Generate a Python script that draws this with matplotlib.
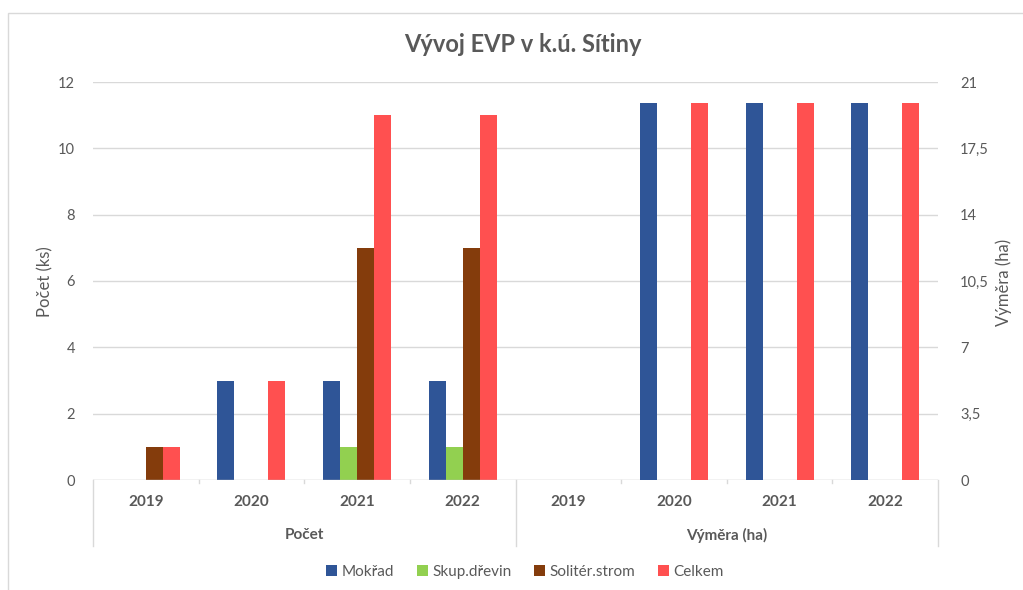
import matplotlib
matplotlib.use("Agg")
import matplotlib.pyplot as plt
import numpy as np
from matplotlib.patches import Rectangle

plt.rcParams['font.family'] = ['Lato', 'DejaVu Sans']

# ---- data ----
years = ['2019', '2020', '2021', '2022']
groups = ['Počet', 'Výměra (ha)']
series = ['Mokřad', 'Skup.dřevin', 'Solitér.strom', 'Celkem']
colors = ['#2F5597', '#92D050', '#843C0C', '#FF5050']

pocet_mokrad = [0, 3, 3, 3]
pocet_skup = [0, 0, 1, 1]
pocet_solit = [1, 0, 7, 7]
pocet_celkem = [1, 3, 11, 11]

vymera_mokrad = [0, 19.9, 19.9, 19.9]
vymera_skup = [0, 0, 0, 0]
vymera_solit = [0, 0, 0, 0]
vymera_celkem = [0, 19.9, 19.9, 19.9]

left_ticks = [0, 2, 4, 6, 8, 10, 12]
right_ticks = [0, 3.5, 7, 10.5, 14, 17.5, 21]
right_labels = ['0', '3,5', '7', '10,5', '14', '17,5', '21']

title = 'Vývoj EVP v k.ú. Sítiny'
ylabel_left = 'Počet (ks)'
ylabel_right = 'Výměra (ha)'

# ---- figure ----
W, H = 1023, 590
fig = plt.figure(figsize=(W / 100, H / 100), dpi=100)
fig.patch.set_facecolor('white')

# outer chart border
fig.add_artist(Rectangle((8 / W, -0.05), 1.2, 1 - 13 / H + 0.05, transform=fig.transFigure,
                         fill=False, edgecolor='#D9D9D9', linewidth=1.0))

x0, x1 = 93 / W, 938 / W
y0, y1 = 1 - 480 / H, 1 - 82 / H
ax = fig.add_axes([x0, y0, x1 - x0, y1 - y0])
ax2 = ax.twinx()

grey = '#595959'
gridc = '#D9D9D9'
axc = '#BFBFBF'

ax.set_xlim(0, 8)
ax.set_ylim(0, 12)
ax2.set_ylim(0, 21)

w = 0.161
pocet = [pocet_mokrad, pocet_skup, pocet_solit, pocet_celkem]
vymera = [vymera_mokrad, vymera_skup, vymera_solit, vymera_celkem]
xs_p = np.arange(len(years)) + 0.5
xs_v = np.arange(len(years)) + 4.5
for j in range(4):
    off = (j - 1.5) * w
    ax.bar(xs_p + off, pocet[j], width=w, color=colors[j], linewidth=0, zorder=3, label=series[j])
    ax2.bar(xs_v + off, vymera[j], width=w, color=colors[j], linewidth=0, zorder=3)

# grid
for t in left_ticks[1:]:
    ax.axhline(t, color=gridc, linewidth=1.0, zorder=1)
ax.axhline(0, color=axc, linewidth=1.0, zorder=4)

for a in (ax, ax2):
    for s in a.spines.values():
        s.set_visible(False)

ax.set_yticks(left_ticks)
ax.set_yticklabels([str(t) for t in left_ticks])
ax.tick_params(axis='y', length=0, pad=13, labelsize=10.5, labelcolor=grey)
ax2.set_yticks(right_ticks)
ax2.set_yticklabels(right_labels)
ax2.tick_params(axis='y', length=0, pad=16, labelsize=10.5, labelcolor=grey)
ax.set_xticks([])

# category axis labels
trans = ax.get_xaxis_transform()
for i, yv in enumerate(years * 2):
    ax.text(i + 0.5, -22 / 398, yv, transform=trans, ha='center', va='center',
            fontsize=11, fontweight='bold', color=grey)
for g, gname in enumerate(groups):
    ax.text(g * 4 + 2, -55 / 398, gname, transform=trans, ha='center', va='center',
            fontsize=11, fontweight='bold', color=grey)
# separators
for xv in [0, 4, 8]:
    ax.plot([xv, xv], [0, -66 / 398], transform=trans, color=gridc, linewidth=1.0, clip_on=False)
# small ticks between categories
for xv in [1, 2, 3, 5, 6, 7]:
    ax.plot([xv, xv], [0, -3 / 398], transform=trans, color=gridc, linewidth=1.0, clip_on=False)

# axis titles
fig.text(45 / W, 1 - 282 / H, ylabel_left, rotation=90, ha='center', va='center', fontsize=12, color=grey)
fig.text(1004 / W, 1 - 282 / H, ylabel_right, rotation=90, ha='center', va='center', fontsize=12, color=grey)

# title
fig.text(523 / W, 1 - 45 / H, title, ha='center', va='center', fontsize=17, fontweight='bold', color=grey)

# legend
handles = [Rectangle((0, 0), 1, 1, facecolor=c, edgecolor='none') for c in colors]
leg = fig.legend(handles, series, loc='center', bbox_to_anchor=(525 / W, 1 - 572 / H), ncol=4,
                 frameon=False, handlelength=0.7, handleheight=0.7, handletextpad=0.3,
                 columnspacing=1.5, fontsize=11)
for t in leg.get_texts():
    t.set_color(grey)

fig.savefig('out.png', dpi=100, facecolor='white')
